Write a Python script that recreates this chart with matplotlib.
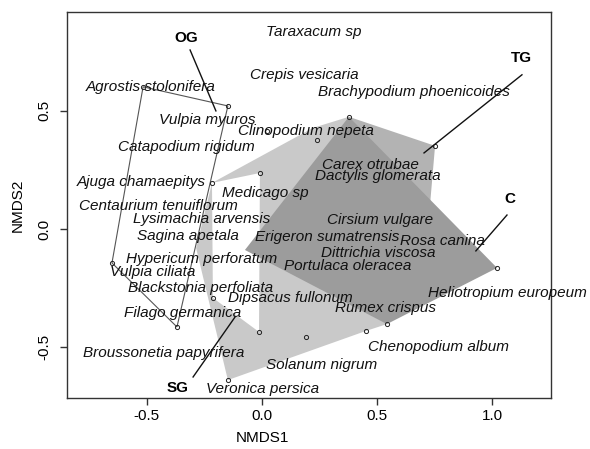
import matplotlib.pyplot as plt
import numpy as np

plt.rcParams['font.family'] = ['Liberation Sans', 'DejaVu Sans']

#species names and their NMDS scores (label centres)
species = ["Taraxacum sp", "Crepis vesicaria", "Brachypodium phoenicoides",
           "Agrostis stolonifera", "Vulpia myuros", "Clinopodium nepeta",
           "Catapodium rigidum", "Ajuga chamaepitys", "Medicago sp",
           "Carex otrubae", "Dactylis glomerata", "Centaurium tenuiflorum",
           "Lysimachia arvensis", "Sagina apetala", "Erigeron sumatrensis",
           "Cirsium vulgare", "Rosa canina", "Dittrichia viscosa",
           "Portulaca oleracea", "Hypericum perforatum", "Vulpia ciliata",
           "Blackstonia perfoliata", "Dipsacus fullonum", "Heliotropium europeum",
           "Rumex crispus", "Filago germanica", "Chenopodium album",
           "Broussonetia papyrifera", "Solanum nigrum", "Veronica persica"]
species_x = [0.226, 0.182, 0.659, -0.482, -0.239, 0.191, -0.330, -0.525, 0.013,
             0.469, 0.503, -0.451, -0.260, -0.321, 0.282, 0.512, 0.782, 0.505,
             0.373, -0.264, -0.476, -0.265, 0.123, 1.063, 0.536, -0.343, 0.766,
             -0.425, 0.260, 0.004]
species_y = [0.835, 0.653, 0.581, 0.602, 0.462, 0.415, 0.347, 0.199, 0.153,
             0.271, 0.225, 0.097, 0.042, -0.030, -0.034, 0.038, -0.051, -0.102,
             -0.157, -0.127, -0.182, -0.250, -0.292, -0.271, -0.335, -0.356,
             -0.500, -0.525, -0.576, -0.678]

#site scores (open circles)
site_x = [-0.516, -0.148, -0.217, -0.009, 0.022, 0.377, 0.239, 0.751, 1.020,
          0.542, 0.451, 0.191, -0.013, -0.148, -0.213, -0.369, -0.651]
site_y = [0.602, 0.521, 0.195, 0.237, 0.415, 0.475, 0.377, 0.352, -0.165,
          -0.403, -0.432, -0.458, -0.436, -0.640, -0.292, -0.415, -0.144]

#hull outlines, drawn in this order
og_hull_x = [-0.516, -0.148, -0.369, -0.651]
og_hull_y = [0.602, 0.521, -0.415, -0.144]
sg_hull_x = [-0.286, -0.217, 0.221, 0.377, 0.542, 0.451, -0.148]
sg_hull_y = [-0.081, 0.195, 0.428, 0.475, -0.403, -0.432, -0.640]
gap_x = [-0.217, -0.009, -0.013, -0.213]
gap_y = [0.195, 0.237, -0.436, -0.292]
tg_hull_x = [0.377, 0.751, 0.729, 0.425]
tg_hull_y = [0.475, 0.352, 0.102, 0.123]
c_hull_x = [0.377, 1.020, 0.542, -0.074]
c_hull_y = [0.475, -0.165, -0.403, -0.089]

#group labels and the lines pointing at each hull
groups = ["OG", "TG", "C", "SG"]
group_x = [-0.330, 1.124, 1.076, -0.364]
group_y = [0.809, 0.725, 0.127, -0.674]
pointer_x0 = [-0.312, 1.128, 1.063, -0.299]
pointer_y0 = [0.758, 0.653, 0.059, -0.627]
pointer_x1 = [-0.200, 0.703, 0.928, -0.117]
pointer_y1 = [0.500, 0.322, -0.093, -0.373]

fig = plt.figure(figsize=(5.9, 4.49), dpi=100)
ax = fig.add_axes([0.1136, 0.1136, 0.8203, 0.8597])

#shaded hulls
ax.fill(sg_hull_x, sg_hull_y, color='#c9c9c9', lw=0, zorder=1)
ax.fill(gap_x, gap_y, color='white', lw=0, zorder=2)
ax.fill(tg_hull_x, tg_hull_y, color='#b3b3b3', lw=0, zorder=3)
ax.fill(c_hull_x, c_hull_y, color='#9c9c9c', lw=0, zorder=4)
ax.fill(og_hull_x, og_hull_y, facecolor='none', edgecolor='#555555', lw=0.8, zorder=5)

ax.plot(site_x, site_y, 'o', ms=3, mfc='none', mec='#222222', mew=0.7, zorder=6)

for name, x, y in zip(species, species_x, species_y):
    ax.text(x, y, name, style='italic', fontsize=11, ha='center', va='center',
            color='#111111', zorder=7, clip_on=False)

for i in range(len(groups)):
    ax.plot([pointer_x0[i], pointer_x1[i]], [pointer_y0[i], pointer_y1[i]],
            color='#111111', lw=1, zorder=7)
    ax.text(group_x[i], group_y[i], groups[i], fontweight='bold', fontsize=11,
            ha='center', va='center', zorder=7)

ax.set_xlim(-0.846, 1.254)
ax.set_ylim(-0.716, 0.919)
ax.set_xticks([-0.5, 0.0, 0.5, 1.0])
ax.set_xticklabels(["-0.5", "0.0", "0.5", "1.0"])
ax.set_yticks([-0.5, 0.0, 0.5])
ax.set_yticklabels(["-0.5", "0.0", "0.5"])
ax.tick_params(axis='both', labelsize=11, length=5, width=1, color='#333333')
ax.tick_params(axis='x', pad=3)
ax.tick_params(axis='y', pad=6, labelrotation=90)
for lab in ax.get_yticklabels():
    lab.set_va('center')
for s in ax.spines.values():
    s.set_color('#333333')
    s.set_linewidth(1)

ax.set_xlabel("NMDS1", fontsize=11)
ax.set_ylabel("NMDS2", fontsize=11)
ax.xaxis.set_label_coords(0.404, -0.085)
ax.yaxis.set_label_coords(-0.087, 0.5)

fig.savefig("out.png", dpi=100)
